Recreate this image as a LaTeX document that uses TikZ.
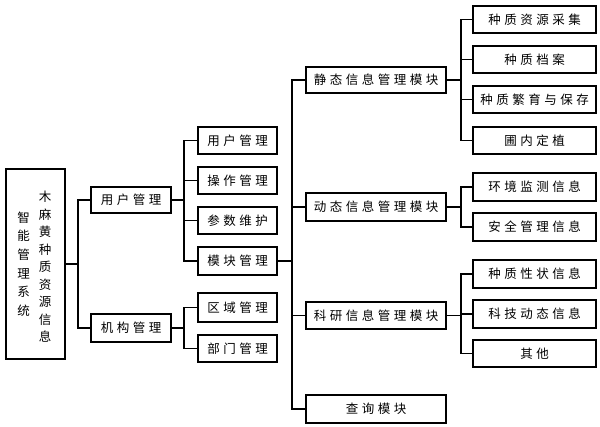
\documentclass[tikz,border=0pt]{standalone}
\usepackage{fontspec}
\newfontfamily\cjk{Noto Sans CJK SC}
\newlength\cjkgap
\setlength\cjkgap{3.5pt}
\def\spcstop{\spcstop}
\def\spc#1{\spcA#1\spcstop}
\def\spcA#1#2{#1\ifx#2\spcstop\else\hskip\cjkgap\relax\expandafter\spcA\expandafter#2\fi}
\begin{document}
\begin{tikzpicture}[x=1pt,y=-1pt,
  box/.style={draw, line width=1.5pt, inner sep=0pt, font=\cjk\fontsize{12.5}{15}\selectfont},
  lone/.style={box, minimum width=80pt, minimum height=27pt},
  ltwo/.style={box, minimum width=79pt, minimum height=27pt},
  lthree/.style={box, minimum width=140pt, minimum height=27pt},
  lfour/.style={box, minimum width=123pt, minimum height=27pt},
  vtext/.style={align=center, inner sep=0pt, font=\cjk\fontsize{12.5}{17.5}\selectfont},
  conn/.style={line width=1.1pt}]
\useasboundingbox (0,0) rectangle (600,427);
% root
\node[draw, line width=1.5pt, minimum width=59pt, minimum height=190pt] (root) at (35.5,264) {};
\node[vtext, font=\cjk\fontsize{12.5}{18.6}\selectfont] (rta) at (23.5,264) {智\\能\\管\\理\\系\\统};
\node[vtext] (rtb) at (45,267) {木\\麻\\黄\\种\\质\\资\\源\\信\\息};
% level 1
\node[lone, minimum height=26pt] (u1) at (131,200) {\spc{用户管理}};
\node[lone, minimum height=28pt] (u2) at (131,328) {\spc{机构管理}};
% level 2
\node[ltwo] (a1) at (237.5,140.5) {\spc{用户管理}};
\node[ltwo] (a2) at (237.5,180.5) {\spc{操作管理}};
\node[ltwo] (a3) at (237.5,220.5) {\spc{参数维护}};
\node[ltwo, minimum height=28pt] (a4) at (237.5,261) {\spc{模块管理}};
\node[ltwo, minimum height=29pt] (b1) at (237.5,307.5) {\spc{区域管理}};
\node[ltwo] (b2) at (237.5,348.5) {\spc{部门管理}};
% level 3
\node[lthree, minimum height=26pt] (m1) at (376,80) {\spc{静态信息管理模块}};
\node[lthree, minimum height=28pt] (m2) at (376,207) {\spc{动态信息管理模块}};
\node[lthree] (m3) at (376,315.5) {\spc{科研信息管理模块}};
\node[lthree, minimum height=28pt] (m4) at (376,409) {\spc{查询模块}};
% level 4
\node[lfour] (s1) at (534.5,19.5) {\spc{种质资源采集}};
\node[lfour] (s2) at (534.5,59.5) {\spc{种质档案}};
\node[lfour] (s3) at (534.5,99.5) {\spc{种质繁育与保存}};
\node[lfour] (s4) at (534.5,140.5) {\spc{圃内定植}};
\node[lfour, minimum height=28pt] (d1) at (534.5,187) {\spc{环境监测信息}};
\node[lfour, minimum height=28pt] (d2) at (534.5,227) {\spc{安全管理信息}};
\node[lfour, minimum height=28pt] (r1) at (534.5,274) {\spc{种质性状信息}};
\node[lfour, minimum height=28pt] (r2) at (534.5,314) {\spc{科技动态信息}};
\node[lfour] (r3) at (534.5,353.5) {\spc{其他}};
% bus coordinates
\coordinate (busA) at (78,264);
\coordinate (busB) at (184,200);
\coordinate (busC) at (184,328);
\coordinate (trunk) at (292,261);
\coordinate (busS) at (461,80);
\coordinate (busD) at (461,207);
\coordinate (busR) at (461,315.5);
% connectors
\draw[conn] (root.east |- busA) -- (busA);
\draw[conn] (u1.west) -| (busA) |- (u2.west);
\draw[conn] (u1.east) -- (busB);
\draw[conn] (a1.west) -| (busB) |- (a4.west);
\draw[conn] (a2.west) -- (a2.west -| busB);
\draw[conn] (a3.west) -- (a3.west -| busB);
\draw[conn] (u2.east) -- (busC);
\draw[conn] (b1.west) -| (busC) |- (b2.west);
\draw[conn] (a4.east) -- (trunk);
\draw[conn] (m1.west) -| (trunk) |- (m4.west);
\draw[conn] (m2.west) -- (m2.west -| trunk);
\draw[conn] (m3.west) -- (m3.west -| trunk);
\draw[conn] (m1.east) -- (busS);
\draw[conn] (s1.west) -| (busS) |- (s4.west);
\draw[conn] (s2.west) -- (s2.west -| busS);
\draw[conn] (s3.west) -- (s3.west -| busS);
\draw[conn] (m2.east) -- (busD);
\draw[conn] (d1.west) -| (busD) |- (d2.west);
\draw[conn] (m3.east) -- (busR);
\draw[conn] (r1.west) -| (busR) |- (r3.west);
\draw[conn] (r2.west) -- (r2.west -| busR);
\end{tikzpicture}
\end{document}
